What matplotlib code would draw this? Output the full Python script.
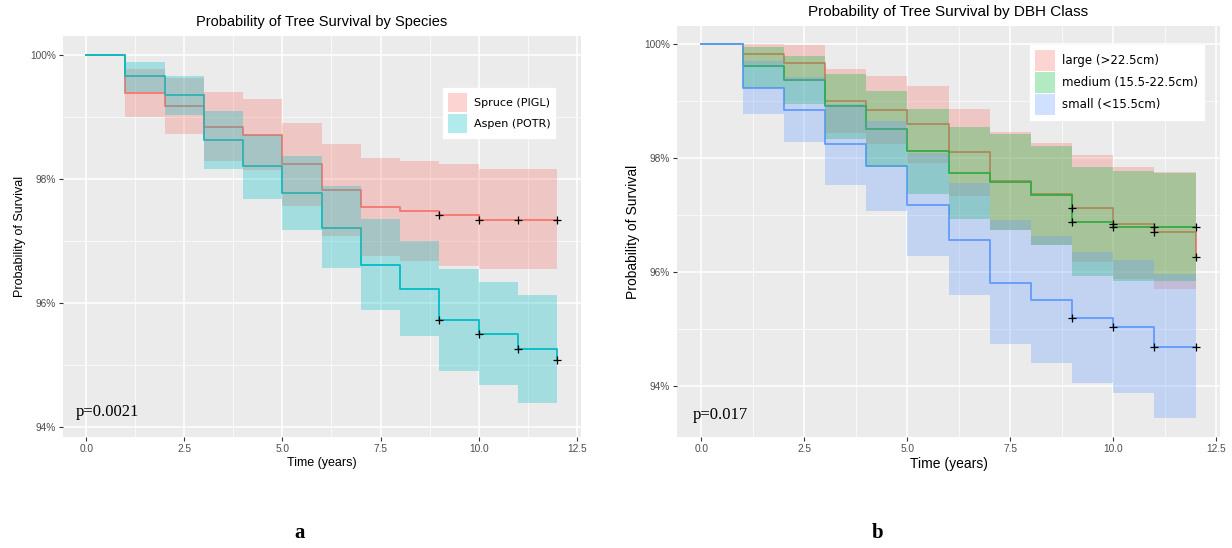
import matplotlib
matplotlib.use("Agg")
import matplotlib.pyplot as plt
from matplotlib.patches import Patch
from matplotlib.ticker import MultipleLocator, FuncFormatter

plt.rcParams['font.family'] = ['Liberation Sans', 'DejaVu Sans']

# time axis (years)
time = [0, 1, 2, 3, 4, 5, 6, 7, 8, 9, 10, 11, 12]

# panel a: species
spruce_surv = [100, 99.38, 99.18, 98.84, 98.71, 98.23, 97.82, 97.55, 97.48, 97.41, 97.34, 97.34, 97.34]
spruce_upper = [100, 99.77, 99.62, 99.39, 99.28, 98.90, 98.56, 98.34, 98.28, 98.23, 98.16, 98.16, 98.16]
spruce_lower = [100, 99.00, 98.72, 98.29, 98.14, 97.56, 97.08, 96.76, 96.68, 96.60, 96.55, 96.55, 96.55]
aspen_surv = [100, 99.65, 99.35, 98.62, 98.20, 97.77, 97.21, 96.61, 96.23, 95.72, 95.50, 95.26, 95.08]
aspen_upper = [100, 99.88, 99.66, 99.09, 98.71, 98.37, 97.89, 97.35, 97.00, 96.55, 96.34, 96.13, 96.13]
aspen_lower = [100, 99.39, 99.03, 98.16, 97.67, 97.18, 96.56, 95.89, 95.47, 94.91, 94.67, 94.38, 94.38]
censor_a = [9, 10, 11, 12]

# panel b: DBH class
large_surv = [100, 99.83, 99.67, 99.01, 98.85, 98.60, 98.11, 97.60, 97.37, 97.12, 96.85, 96.70, 96.26]
large_upper = [100, 100.0, 99.98, 99.57, 99.45, 99.26, 98.87, 98.46, 98.26, 98.06, 97.84, 97.76, 97.76]
large_lower = [100, 99.61, 99.36, 98.45, 98.25, 97.92, 97.33, 96.74, 96.47, 96.18, 95.88, 95.70, 95.70]
medium_surv = [100, 99.61, 99.37, 98.91, 98.51, 98.12, 97.74, 97.58, 97.35, 96.88, 96.80, 96.80, 96.80]
medium_upper = [100, 99.95, 99.80, 99.47, 99.18, 98.87, 98.55, 98.42, 98.22, 97.84, 97.77, 97.75, 97.75]
medium_lower = [100, 99.24, 98.95, 98.33, 97.84, 97.38, 96.94, 96.74, 96.47, 95.94, 95.84, 95.84, 95.84]
small_surv = [100, 99.23, 98.85, 98.25, 97.87, 97.18, 96.57, 95.81, 95.51, 95.20, 95.04, 94.69, 94.69]
small_upper = [100, 99.70, 99.42, 98.95, 98.65, 98.09, 97.56, 96.91, 96.64, 96.36, 96.22, 95.97, 95.97]
small_lower = [100, 98.77, 98.29, 97.53, 97.08, 96.29, 95.60, 94.74, 94.40, 94.05, 93.88, 93.45, 93.45]
censor_b = [9, 10, 11, 12]

RED = '#F8766D'
TEAL = '#00BFC4'
GREEN = '#00BA38'
BLUE = '#619CFF'

W, H = 1232, 548
fig = plt.figure(figsize=(W / 100, H / 100), dpi=100)


def px_axes(x0, y0, x1, y1):
    return fig.add_axes([x0 / W, 1 - y1 / H, (x1 - x0) / W, (y1 - y0) / H])


def style(ax, ylim):
    ax.set_facecolor('#EBEBEB')
    for s in ax.spines.values():
        s.set_visible(False)
    ax.set_xlim(-0.6, 12.6)
    ax.set_ylim(*ylim)
    ax.xaxis.set_major_locator(MultipleLocator(2.5))
    ax.xaxis.set_minor_locator(MultipleLocator(1.25))
    ax.yaxis.set_major_locator(MultipleLocator(2))
    ax.yaxis.set_minor_locator(MultipleLocator(1))
    ax.xaxis.set_major_formatter(FuncFormatter(lambda v, p: '%.1f' % v))
    ax.yaxis.set_major_formatter(FuncFormatter(lambda v, p: '%d%%' % round(v)))
    ax.grid(which='major', color='white', lw=1.1)
    ax.grid(which='minor', color='white', lw=0.5)
    ax.set_axisbelow(True)
    ax.tick_params(which='major', length=3, color='#333333', labelsize=7.3, labelcolor='#4d4d4d', pad=2)
    ax.tick_params(which='minor', length=0)


def km(ax, surv, up, lo, color):
    ax.step(time, surv, where='post', color=color, lw=1.3, zorder=2)
    ax.fill_between(time, lo, up, step='post', color=color, alpha=0.3, lw=0, zorder=3)


def censor(ax, surv, times):
    ax.plot(times, [surv[time.index(t)] for t in times], ls='none', marker='+',
            color='black', ms=6, mew=0.9, zorder=4)


legend_kw = dict(loc='upper left', bbox_transform=fig.transFigure, borderaxespad=0,
                 frameon=True, fancybox=False, edgecolor='white', framealpha=1,
                 handlelength=1.7, handleheight=2.3, labelspacing=0.12,
                 borderpad=0.45, handletextpad=0.6)

# ---- panel a
ax1 = px_axes(62.6, 36, 580.7, 437)
style(ax1, (93.84, 100.3))
km(ax1, spruce_surv, spruce_upper, spruce_lower, RED)
km(ax1, aspen_surv, aspen_upper, aspen_lower, TEAL)
censor(ax1, spruce_surv, censor_a)
censor(ax1, aspen_surv, censor_a)
ax1.text(-0.27, 94.25, 'p=0.0021', family='Liberation Serif', fontsize=12, va='center', ha='left')
ax1.set_title('Probability of Tree Survival by Species', fontsize=10.5, pad=7)
ax1.set_xlabel('Time (years)', fontsize=9, labelpad=2)
ax1.set_ylabel('Probability of Survival', fontsize=9, labelpad=3)
h1 = [Patch(facecolor=RED, alpha=0.3, lw=0), Patch(facecolor=TEAL, alpha=0.3, lw=0)]
ax1.legend(h1, ['Spruce (PIGL)', 'Aspen (POTR)'], bbox_to_anchor=(443 / W, 1 - 88 / H),
           prop={'family': 'DejaVu Sans', 'size': 8}, **legend_kw)

# ---- panel b
ax2 = px_axes(676.6, 26, 1220.4, 437)
style(ax2, (93.11, 100.32))
km(ax2, large_surv, large_upper, large_lower, RED)
km(ax2, medium_surv, medium_upper, medium_lower, GREEN)
km(ax2, small_surv, small_upper, small_lower, BLUE)
censor(ax2, large_surv, censor_b)
censor(ax2, medium_surv, censor_b)
censor(ax2, small_surv, censor_b)
ax2.text(-0.21, 93.5, 'p=0.017', family='Liberation Serif', fontsize=12, va='center', ha='left')
ax2.set_title('Probability of Tree Survival by DBH Class', fontsize=11, pad=7)
ax2.set_xlabel('Time (years)', fontsize=10, labelpad=2)
ax2.set_ylabel('Probability of Survival', fontsize=10, labelpad=3)
h2 = [Patch(facecolor=c, alpha=0.3, lw=0) for c in (RED, GREEN, BLUE)]
ax2.legend(h2, ['large (>22.5cm)', 'medium (15.5-22.5cm)', 'small (<15.5cm)'],
           bbox_to_anchor=(1030 / W, 1 - 45 / H),
           prop={'family': 'DejaVu Sans', 'size': 8.5}, **legend_kw)

fig.text(300 / W, 1 - 533 / H, 'a', family='Liberation Serif', fontweight='bold', fontsize=15, ha='center', va='center')
fig.text(878 / W, 1 - 533 / H, 'b', family='Liberation Serif', fontweight='bold', fontsize=15, ha='center', va='center')

fig.savefig('out.png', dpi=100, facecolor='white')
